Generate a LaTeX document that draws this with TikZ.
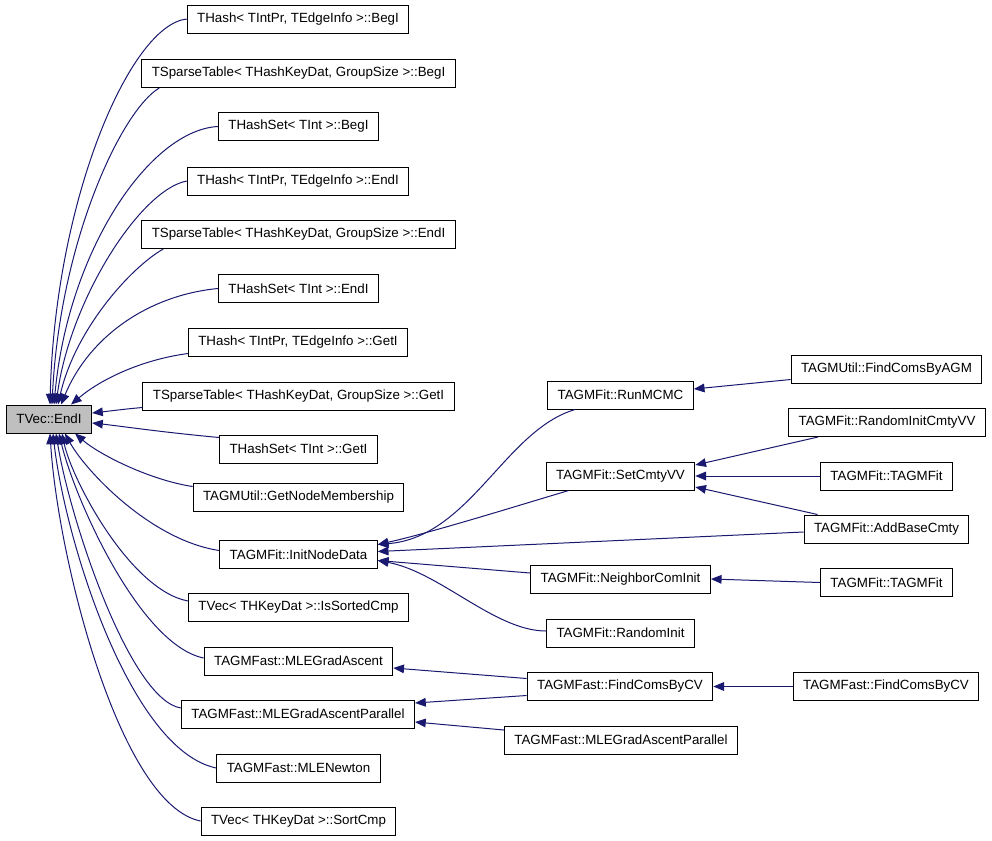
\documentclass[tikz,border=0pt]{standalone}
\usepackage{fontspec}
\setmainfont{Liberation Sans}
\usetikzlibrary{arrows.meta,calc}
\definecolor{edgeblue}{RGB}{25,25,112}
\definecolor{rootgray}{RGB}{191,191,191}
\tikzset{
  box/.style={draw=black, line width=0.75pt, fill=white, minimum height=21pt,
    inner xsep=7.5pt, inner ysep=0pt, font=\fontsize{10pt}{12pt}\selectfont},
  rootbox/.style={box, fill=rootgray},
  edge/.style={draw=edgeblue, line width=0.75pt,
    -{Triangle[length=8pt,width=6.5pt]}},
}
\begin{document}
\begin{tikzpicture}[x=0.75pt,y=-0.75pt]
\useasboundingbox (0,0) rectangle (992,840);
% root
\node[rootbox] (r) at (49,419) {TVec::EndI};
% column 1
\node[box] (n1) at (298,19) {THash< TIntPr, TEdgeInfo >::BegI};
\node[box] (n2) at (298.5,73.5) {TSparseTable< THashKeyDat, GroupSize >::BegI};
\node[box] (n3) at (298.5,126.5) {THashSet< TInt >::BegI};
\node[box] (n4) at (298,181) {THash< TIntPr, TEdgeInfo >::EndI};
\node[box] (n5) at (298.5,234.5) {TSparseTable< THashKeyDat, GroupSize >::EndI};
\node[box] (n6) at (298.5,288.5) {THashSet< TInt >::EndI};
\node[box] (n7) at (298,342) {THash< TIntPr, TEdgeInfo >::GetI};
\node[box] (n8) at (298.5,396) {TSparseTable< THashKeyDat, GroupSize >::GetI};
\node[box] (n9) at (298.5,449) {THashSet< TInt >::GetI};
\node[box] (n10) at (298.5,497) {TAGMUtil::GetNodeMembership};
\node[box] (n11) at (298.5,554.5) {TAGMFit::InitNodeData};
\node[box] (n12) at (298.5,607) {TVec< THKeyDat >::IsSortedCmp};
\node[box] (n13) at (298.5,661) {TAGMFast::MLEGradAscent};
\node[box] (n14) at (298,714) {TAGMFast::MLEGradAscentParallel};
\node[box] (n15) at (298.5,768) {TAGMFast::MLENewton};
\node[box] (n16) at (298.5,821) {TVec< THKeyDat >::SortCmp};
% column 2
\node[box] (rm) at (620.5,395) {TAGMFit::RunMCMC};
\node[box] (scv) at (620.5,476) {TAGMFit::SetCmtyVV};
\node[box] (nci) at (620.5,579) {TAGMFit::NeighborComInit};
\node[box] (ri) at (620.5,633) {TAGMFit::RandomInit};
\node[box] (fcv2) at (620,686.5) {TAGMFast::FindComsByCV};
\node[box] (mgap2) at (621,740) {TAGMFast::MLEGradAscentParallel};
% column 3
\node[box] (agm) at (886.5,369) {TAGMUtil::FindComsByAGM};
\node[box] (ricv) at (887,422.5) {TAGMFit::RandomInitCmtyVV};
\node[box] (tf1) at (886.5,476) {TAGMFit::TAGMFit};
\node[box] (ab) at (886.5,529) {TAGMFit::AddBaseCmty};
\node[box] (tf2) at (886.5,582.5) {TAGMFit::TAGMFit};
\node[box] (fcv3) at (886,686.5) {TAGMFast::FindComsByCV};
% edges into root, top side
\draw[edge] (n1.west) .. controls (130,25) and (55,200) .. ($(r.north)+(1,0)$);
\draw[edge] ($(n2.south west)+(18,0)$) .. controls (122,110) and (60,240) .. ($(r.north)+(3,0)$);
\draw[edge] (n3.west) .. controls (150,130) and (68,250) .. ($(r.north)+(5,0)$);
\draw[edge] (n4.west) .. controls (140,190) and (70,300) .. ($(r.north)+(7,0)$);
\draw[edge] ($(n5.south west)+(22,0)$) .. controls (130,268) and (75,330) .. ($(r.north)+(9,0)$);
\draw[edge] (n6.west) .. controls (150,295) and (90,335) .. ($(r.north)+(12,0)$);
\draw[edge] ($(n7.south west)+(0,-3)$) .. controls (140,360) and (100,380) .. ($(r.north)+(22,0)$);
% right side
\draw[edge] ($(n8.south west)+(0,-3)$) .. controls (125,409) and (110,411) .. ($(r.east)+(0,-6)$);
\draw[edge] ($(n9.north west)+(0,3)$) .. controls (160,432) and (120,426) .. ($(r.east)+(0,4)$);
% bottom side
\draw[edge] ($(n10.north west)+(0,4)$) .. controls (150,480) and (100,455) .. ($(r.south)+(26,0)$);
\draw[edge] ($(n11.west)+(0,-4)$) .. controls (150,540) and (85,470) .. ($(r.south)+(16,0)$);
\draw[edge] ($(n12.west)+(0,-6)$) .. controls (130,590) and (72,480) .. ($(r.south)+(13,0)$);
\draw[edge] ($(n13.west)+(0,-3)$) .. controls (140,645) and (75,500) .. ($(r.south)+(10,0)$);
\draw[edge] ($(n14.west)+(0,-6)$) .. controls (130,700) and (70,520) .. ($(r.south)+(7,0)$);
\draw[edge] (n15.west) .. controls (130,750) and (65,540) .. ($(r.south)+(4,0)$);
\draw[edge] (n16.west) .. controls (120,805) and (58,560) .. ($(r.south)+(1,0)$);
% into InitNodeData
\draw[edge] ($(rm.south west)+(28,0)$) .. controls (505,430) and (470,537) .. ($(n11.east)+(0,-10)$);
\draw[edge] ($(scv.south west)+(23,0)$) .. controls (520,505) and (430,533) .. ($(n11.east)+(0,-10)$);
\draw[edge] ($(ab.west)+(0,3)$) -- ($(n11.east)+(0,-3)$);
\draw[edge] ($(nci.west)+(0,-6)$) -- ($(n11.east)+(0,6)$);
\draw[edge] ($(ri.west)+(0,-2)$) .. controls (495,631) and (440,572) .. ($(n11.east)+(0,6)$);
% column 3 to column 2
\draw[edge] ($(agm.south west)+(0,-4)$) -- ($(rm.east)+(0,-6)$);
\draw[edge] ($(ricv.south west)+(30,0)$) -- ($(scv.east)+(0,-11)$);
\draw[edge] (tf1.west) -- (scv.east);
\draw[edge] ($(ab.north west)+(14,0)$) -- ($(scv.east)+(0,11)$);
\draw[edge] (tf2.west) -- (nci.east);
\draw[edge] (fcv3.west) -- (fcv2.east);
% into MLE nodes
\draw[edge] ($(fcv2.west)+(0,-8)$) -- ($(n13.east)+(0,7)$);
\draw[edge] ($(fcv2.west)+(0,9)$) -- ($(n14.east)+(0,-11)$);
\draw[edge] ($(mgap2.west)+(0,-10)$) -- ($(n14.east)+(0,8)$);
\end{tikzpicture}
\end{document}
